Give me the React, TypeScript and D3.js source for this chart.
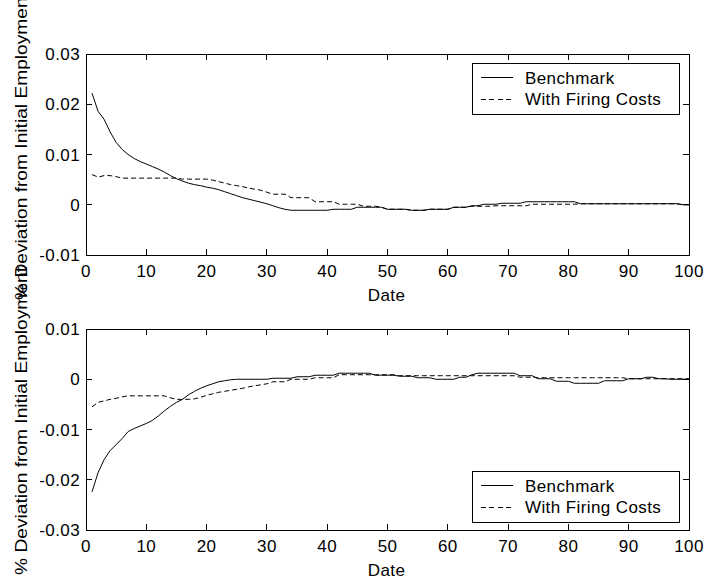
import React from "react";
import * as d3 from "d3";

// ---------- data ----------
const dates: number[] = d3.range(1, 101);

const topBenchmark: number[] = [
  0.0222, 0.0186, 0.0170, 0.0145, 0.0124, 0.0110, 0.0100, 0.0092, 0.0086, 0.0081,
  0.0076, 0.0071, 0.0065, 0.0058, 0.0052, 0.0047, 0.0043, 0.0040, 0.0038, 0.0035,
  0.0033, 0.0030, 0.0026, 0.0022, 0.0018, 0.0014, 0.0011, 0.0008, 0.0005, 0.0002,
  -0.0002, -0.0006, -0.0009, -0.0011, -0.0011, -0.0011, -0.0011, -0.0011, -0.0011, -0.0011,
  -0.0009, -0.0009, -0.0009, -0.0009, -0.0005, -0.0005, -0.0005, -0.0005, -0.0005, -0.0009,
  -0.0009, -0.0009, -0.0009, -0.0011, -0.0011, -0.0011, -0.0009, -0.0009, -0.0009, -0.0009,
  -0.0005, -0.0005, -0.0005, -0.0002, -0.0002, 0.0001, 0.0001, 0.0001, 0.0003, 0.0003,
  0.0003, 0.0003, 0.0006, 0.0006, 0.0006, 0.0006, 0.0006, 0.0006, 0.0006, 0.0006,
  0.0006, 0.0002, 0.0002, 0.0002, 0.0002, 0.0002, 0.0002, 0.0002, 0.0002, 0.0002,
  0.0002, 0.0002, 0.0002, 0.0002, 0.0002, 0.0002, 0.0002, 0.0002, 0.0, 0.0,
];

const topFiring: number[] = [
  0.0060, 0.0055, 0.0058, 0.0058, 0.0056, 0.0053, 0.0053, 0.0053, 0.0053, 0.0053,
  0.0053, 0.0053, 0.0053, 0.0053, 0.0053, 0.0051, 0.0051, 0.0051, 0.0051, 0.0051,
  0.0049, 0.0046, 0.0043, 0.0040, 0.0038, 0.0036, 0.0033, 0.0031, 0.0029, 0.0025,
  0.0021, 0.0021, 0.0021, 0.0014, 0.0014, 0.0014, 0.0014, 0.0006, 0.0006, 0.0006,
  0.0006, 0.0001, 0.0001, 0.0001, 0.0001, -0.0003, -0.0003, -0.0003, -0.0005, -0.0009,
  -0.0009, -0.0009, -0.0009, -0.0011, -0.0011, -0.0011, -0.0009, -0.0009, -0.0009, -0.0009,
  -0.0005, -0.0005, -0.0005, -0.0003, -0.0003, -0.0003, -0.0003, -0.0002, -0.0002, -0.0002,
  -0.0002, -0.0002, -0.0002, 0.0001, 0.0001, 0.0001, 0.0001, 0.0001, 0.0001, 0.0001,
  0.0001, 0.0002, 0.0002, 0.0002, 0.0002, 0.0002, 0.0002, 0.0002, 0.0002, 0.0002,
  0.0002, 0.0002, 0.0002, 0.0002, 0.0002, 0.0002, 0.0002, 0.0002, 0.0, 0.0,
];

const bottomBenchmark: number[] = [
  -0.0224, -0.0186, -0.0160, -0.0142, -0.0130, -0.0118, -0.0104, -0.0098, -0.0093, -0.0088,
  -0.0082, -0.0073, -0.0063, -0.0054, -0.0046, -0.0040, -0.0031, -0.0024, -0.0018, -0.0013,
  -0.0009, -0.0005, -0.0003, -0.0001, 0.0, 0.0, 0.0, 0.0, 0.0, 0.0,
  0.0002, 0.0002, 0.0002, 0.0002, 0.0005, 0.0005, 0.0005, 0.0008, 0.0008, 0.0008,
  0.0008, 0.0012, 0.0012, 0.0012, 0.0012, 0.0012, 0.0012, 0.0008, 0.0008, 0.0008,
  0.0008, 0.0006, 0.0006, 0.0006, 0.0003, 0.0003, 0.0003, 0.0, 0.0, 0.0,
  0.0, 0.0004, 0.0004, 0.0009, 0.0012, 0.0012, 0.0012, 0.0012, 0.0012, 0.0012,
  0.0012, 0.0007, 0.0007, 0.0007, 0.0001, 0.0001, 0.0001, -0.0004, -0.0004, -0.0004,
  -0.0008, -0.0008, -0.0008, -0.0008, -0.0008, -0.0003, -0.0003, -0.0003, -0.0003, 0.0001,
  0.0001, 0.0001, 0.0004, 0.0004, 0.0001, 0.0001, 0.0, 0.0, 0.0, 0.0,
];

const bottomFiring: number[] = [
  -0.0055, -0.0046, -0.0043, -0.0040, -0.0038, -0.0035, -0.0033, -0.0033, -0.0033, -0.0033,
  -0.0033, -0.0033, -0.0033, -0.0037, -0.0040, -0.0040, -0.0040, -0.0039, -0.0036, -0.0032,
  -0.0029, -0.0026, -0.0024, -0.0022, -0.0020, -0.0018, -0.0015, -0.0013, -0.0011, -0.0009,
  -0.0005, -0.0005, -0.0005, 0.0, 0.0, 0.0, 0.0, 0.0003, 0.0003, 0.0003,
  0.0003, 0.0009, 0.0009, 0.0009, 0.0009, 0.0009, 0.0009, 0.0009, 0.0009, 0.0009,
  0.0009, 0.0007, 0.0007, 0.0007, 0.0007, 0.0007, 0.0007, 0.0007, 0.0007, 0.0007,
  0.0007, 0.0007, 0.0007, 0.0007, 0.0007, 0.0007, 0.0007, 0.0007, 0.0007, 0.0007,
  0.0007, 0.0004, 0.0004, 0.0004, 0.0003, 0.0003, 0.0003, 0.0003, 0.0003, 0.0003,
  0.0003, 0.0003, 0.0003, 0.0003, 0.0003, 0.0003, 0.0003, 0.0003, 0.0003, 0.0001,
  0.0001, 0.0001, 0.0001, 0.0001, 0.0001, 0.0001, 0.0001, 0.0001, 0.0001, 0.0001,
];

const xTicks: number[] = [0, 10, 20, 30, 40, 50, 60, 70, 80, 90, 100];
const topYTicks: number[] = [-0.01, 0, 0.01, 0.02, 0.03];
const bottomYTicks: number[] = [-0.03, -0.02, -0.01, 0, 0.01];
const legendLabels: string[] = ["Benchmark", "With Firing Costs"];
const yLabelText = "% Deviation from Initial Employment";
const xLabelText = "Date";

// ---------- layout ----------
const W = 707;
const H = 582;
const FONT = "'Liberation Sans', Arial, Helvetica, sans-serif";
const FS = 17;
const LEFT = 86;
const RIGHT = 689;
const TICK = 6;

const fmt = (v: number) => (v === 0 ? "0" : String(v));

type PanelProps = {
  top: number;
  bottom: number;
  yDomain: [number, number];
  yTicks: number[];
  bench: number[];
  firing: number[];
  legendTop: number;
  yLabelStart: number;
};

function Panel({ top, bottom, yDomain, yTicks, bench, firing, legendTop, yLabelStart }: PanelProps) {
  const x = d3.scaleLinear().domain([0, 100]).range([LEFT, RIGHT]);
  const y = d3.scaleLinear().domain(yDomain).range([bottom, top]);
  const line = d3
    .line<number>()
    .x((_, i) => x(dates[i]))
    .y((d) => y(d));

  const lgLeft = 472;
  const lgRight = 679;
  const lgH = 51;
  const rows = [legendTop + 14.7, legendTop + 36];

  return (
    <g>
      <path d={line(bench) || ""} fill="none" stroke="#000" strokeWidth={1} />
      <path d={line(firing) || ""} fill="none" stroke="#000" strokeWidth={1} strokeDasharray="5,3" />

      <rect
        x={LEFT}
        y={top}
        width={RIGHT - LEFT}
        height={bottom - top}
        fill="none"
        stroke="#000"
        strokeWidth={1}
        shapeRendering="crispEdges"
      />
      {xTicks.map((t) => (
        <g key={"xt" + t} shapeRendering="crispEdges">
          <line x1={x(t)} x2={x(t)} y1={bottom} y2={bottom - TICK} stroke="#000" />
          <line x1={x(t)} x2={x(t)} y1={top} y2={top + TICK} stroke="#000" />
          <text
            x={x(t)}
            y={bottom + 22}
            textAnchor="middle"
            fontFamily={FONT}
            fontSize={FS}
            letterSpacing={0.4}
          >
            {String(t)}
          </text>
        </g>
      ))}
      {yTicks.map((v) => (
        <g key={"yt" + v} shapeRendering="crispEdges">
          <line x1={LEFT} x2={LEFT + TICK} y1={y(v)} y2={y(v)} stroke="#000" />
          <line x1={RIGHT} x2={RIGHT - TICK} y1={y(v)} y2={y(v)} stroke="#000" />
          <text
            x={80}
            y={y(v) + 6}
            textAnchor="end"
            fontFamily={FONT}
            fontSize={FS}
            letterSpacing={0.4}
          >
            {fmt(v)}
          </text>
        </g>
      ))}

      <text
        x={(LEFT + RIGHT) / 2 - 1}
        y={bottom + 46}
        textAnchor="middle"
        fontFamily={FONT}
        fontSize={FS}
        letterSpacing={0.4}
      >
        {xLabelText}
      </text>

      <text
        transform={`translate(27,${yLabelStart}) rotate(-90)`}
        textAnchor="start"
        fontFamily={FONT}
        fontSize={FS}
        textLength={308}
        lengthAdjust="spacingAndGlyphs"
      >
        {yLabelText}
      </text>

      <rect
        x={lgLeft}
        y={legendTop}
        width={lgRight - lgLeft}
        height={lgH}
        fill="#fff"
        stroke="#000"
        strokeWidth={1}
        shapeRendering="crispEdges"
      />
      {legendLabels.map((lab, i) => (
        <g key={lab}>
          <line
            x1={481}
            x2={513}
            y1={rows[i]}
            y2={rows[i]}
            stroke="#000"
            strokeWidth={1}
            strokeDasharray={i === 1 ? "5,3.3" : undefined}
            shapeRendering="crispEdges"
          />
          <text x={525} y={rows[i] + 6} fontFamily={FONT} fontSize={FS} letterSpacing={0.4}>
            {lab}
          </text>
        </g>
      ))}
    </g>
  );
}

export default function App() {
  return (
    <svg
      width={W}
      height={H}
      viewBox={`0 0 ${W} ${H}`}
      style={{ position: "absolute", left: 0, top: 0, background: "#fff" }}
    >
      <rect x={0} y={0} width={W} height={H} fill="#fff" />
      <Panel
        top={54}
        bottom={255}
        yDomain={[-0.01, 0.03]}
        yTicks={topYTicks}
        bench={topBenchmark}
        firing={topFiring}
        legendTop={63}
        yLabelStart={300}
      />
      <Panel
        top={329}
        bottom={530}
        yDomain={[-0.03, 0.01]}
        yTicks={bottomYTicks}
        bench={bottomBenchmark}
        firing={bottomFiring}
        legendTop={471}
        yLabelStart={575}
      />
    </svg>
  );
}
